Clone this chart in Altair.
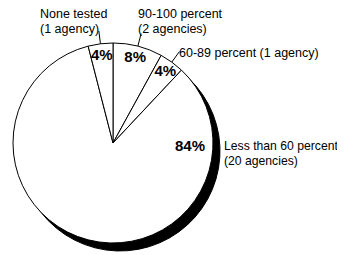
import altair as alt
import pandas as pd

# Data (clockwise from 12 o'clock)
categories = ["90-100 percent", "60-89 percent", "Less than 60 percent", "None tested"]
percents = [8, 4, 84, 4]
agency_text = ["(2 agencies)", "(1 agency)", "(20 agencies)", "(1 agency)"]

df = pd.DataFrame({
    "cat": categories,
    "pct": percents,
    "agencies": agency_text,
    "idx": list(range(len(categories))),
})

CX, CY, R = 105, 135, 100
FONT = "Liberation Sans"

base = alt.Chart(df)
theta = alt.Theta("pct:Q", stack=True)
order = alt.Order("idx:Q")

shadow = base.mark_arc(fill="black", stroke="black", outerRadius=R).encode(
    theta=theta, order=order, x=alt.value(CX + 7), y=alt.value(CY + 8)
)

pie = base.mark_arc(fill="white", stroke="black", strokeWidth=1, outerRadius=R).encode(
    theta=theta, order=order, x=alt.value(CX), y=alt.value(CY)
)

pct_text = base.transform_calculate(
    lab="datum.cat == 'Less than 60 percent' ? '' : datum.pct + '%'"
).mark_text(fontSize=15, fontWeight="bold", font=FONT, radius=89, color="black").encode(
    theta=theta, order=order, text="lab:N", x=alt.value(CX), y=alt.value(CY)
)

big_pct = base.transform_filter(alt.datum.cat == "Less than 60 percent").transform_calculate(
    lab="datum.pct + '%'"
).mark_text(fontSize=15, fontWeight="bold", font=FONT, align="center", baseline="middle", color="black").encode(
    text="lab:N", x=alt.value(182), y=alt.value(138)
)

leaders = base.transform_joinaggregate(total="sum(pct)").transform_window(
    cum="sum(pct)", sort=[alt.SortField("idx")], frame=[None, 0]
).transform_calculate(
    a="2*PI*(datum.cum - datum.pct/2)/datum.total"
).transform_calculate(
    x1=f"{CX} + {R}*sin(datum.a)", y1=f"{CY} - {R}*cos(datum.a)",
    x2=f"{CX} + {R + 13}*sin(datum.a)", y2=f"{CY} - {R + 13}*cos(datum.a)",
).transform_filter(alt.datum.cat != "Less than 60 percent").mark_rule(
    color="black", strokeWidth=1
).encode(
    x=alt.X("x1:Q", scale=None), y=alt.Y("y1:Q", scale=None),
    x2="x2:Q", y2="y2:Q",
)

def label(cat, text_expr, x, y, size=12.5):
    return base.transform_filter(alt.datum.cat == cat).transform_calculate(
        t=text_expr
    ).mark_text(
        fontSize=size, font=FONT, align="left", baseline="middle",
        lineBreak="\n", lineHeight=15, color="black"
    ).encode(text="t:N", x=alt.value(x), y=alt.value(y))

lab_none = label("None tested", "datum.cat + '\\n' + datum.agencies", 32, 6)
lab_90 = label("90-100 percent", "datum.cat + '\\n' + datum.agencies", 130, 6)
lab_60 = label("60-89 percent", "datum.cat + ' ' + datum.agencies", 171, 45)
lab_lt = label("Less than 60 percent", "datum.cat + '\\n' + datum.agencies", 216, 138, 12.2)

chart = alt.layer(
    shadow, pie, leaders, pct_text, big_pct, lab_none, lab_90, lab_60, lab_lt
).properties(
    width=329, height=247, autosize=alt.AutoSizeParams(type="none"), padding=0,
    background="white"
).configure_view(stroke=None)

chart.save("out.html", embed_options={"renderer": "svg", "actions": False})
